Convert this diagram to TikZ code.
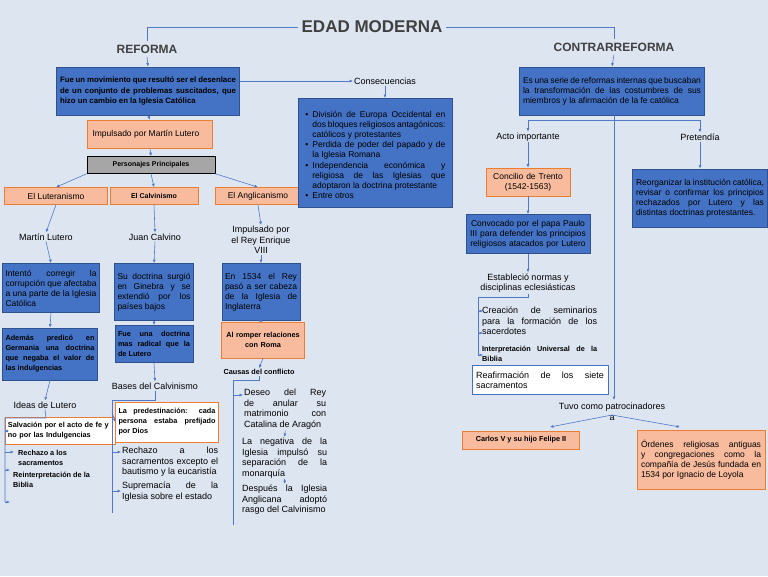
\documentclass[tikz,border=0pt]{standalone}
\usepackage{fontspec}
\setmainfont{Liberation Sans}
\usetikzlibrary{arrows.meta}
\hyphenpenalty=10000 \exhyphenpenalty=10000 \emergencystretch=20pt
\definecolor{bg}{RGB}{221,229,241}
\definecolor{bl}{RGB}{68,114,196}
\definecolor{bld}{RGB}{47,82,143}
\definecolor{sal}{RGB}{248,187,158}
\definecolor{orb}{RGB}{237,125,49}
\definecolor{ln}{RGB}{82,120,200}
\definecolor{tt}{RGB}{64,64,64}
\tikzset{
 bbox/.style={draw=bld,fill=bl,line width=0.8pt,inner sep=2pt,align=justify,font=\fontsize{8.5}{10}\selectfont},
 sbox/.style={draw=orb,fill=sal,line width=0.6pt,inner sep=2pt,align=justify,font=\fontsize{8.5}{10}\selectfont},
 wbox/.style={draw=orb,fill=white,line width=0.8pt,inner sep=2pt,align=justify,font=\fontsize{8}{10}\selectfont},
 txt/.style={inner sep=1pt,align=center,font=\fontsize{9}{10.5}\selectfont},
 jtxt/.style={inner sep=1pt,align=justify,font=\fontsize{9}{10.5}\selectfont},
 sm/.style={font=\fontsize{7.3}{10}\selectfont\bfseries},
 ar/.style={draw=ln,line width=0.6pt,-{Latex[length=3.5pt,width=3pt]}},
 li/.style={draw=ln,line width=0.6pt},
}
\newcommand\bitem{\par\hangindent=7pt\hangafter=1\noindent\hbox to 7pt{\textbullet\hfil}}
\begin{document}
\begin{tikzpicture}[x=1pt,y=-1pt]
\fill[bg] (0,0) rectangle (768,576);
\useasboundingbox (0,0) rectangle (768,576);
% titles
\node[font=\fontsize{17}{20}\selectfont\bfseries,text=tt] (title) at (372,27) {EDAD MODERNA};
\node[font=\fontsize{12}{14}\selectfont\bfseries,text=tt] (ref) at (147,49) {REFORMA};
\node[font=\fontsize{12}{14}\selectfont\bfseries,text=tt] (cref) at (614,47) {CONTRARREFORMA};
\draw[li] (title.west) -- (147,27) -- (ref.north);
\draw[li] (title.east) -- (614,27) -- (cref.north);
% reforma
\node[bbox,minimum width=183,minimum height=48,text width=176,font=\fontsize{7.8}{10.5}\selectfont\bfseries] (r1) at (148,91) {Fue un movimiento que resultó ser el desenlace de un conjunto de problemas suscitados, que hizo un cambio en la Iglesia Católica};
\draw[ar] (ref.south) -- (r1.north);
\node[sbox,minimum width=125,minimum height=28,text width=115] (r2) at (150,134) {Impulsado por Martín Lutero};
\draw[ar] (r1.south) -- (r2.north);
\node[draw=black,fill=gray!70,minimum width=128,minimum height=17,inner sep=1pt,font=\fontsize{7}{8}\selectfont\bfseries] (pp) at (151,165) {Personajes Principales};
\draw[ar] (r2.south) -- (pp.north);
\node[sbox,minimum width=103,minimum height=17,align=center] (lut) at (56,196) {El Luteranismo};
\node[sbox,minimum width=88,minimum height=17,align=center,font=\fontsize{7}{8}\selectfont\bfseries] (cal) at (154,196) {El Calvinismo};
\node[sbox,minimum width=85,minimum height=17,align=center] (ang) at (258,196) {El Anglicanismo};
\draw[ar] (pp.south west) -- (lut.north);
\draw[ar] (pp.south) -- (cal.north);
\draw[ar] (pp.south east) -- (ang.north);
\node[txt] (ml) at (46,237) {Martín Lutero};
\node[txt] (jc) at (155,237) {Juan Calvino};
\node[txt] (ie) at (261,240) {Impulsado por\\el Rey Enrique\\VIII};
\draw[ar] (lut.south) -- (ml.north);
\draw[ar] (cal.south) -- (jc.north);
\draw[ar] (ang.south) -- (ie.north);
\node[bbox,minimum width=97,minimum height=49,text width=91] (b1) at (51,288) {Intentó corregir la corrupción que afectaba a una parte de la Iglesia Católica};
\node[bbox,minimum width=79,minimum height=57,text width=73] (b2) at (154,292) {Su doctrina surgió en Ginebra y se extendió por los países bajos};
\node[bbox,minimum width=78,minimum height=57,text width=72] (b3) at (261,292) {En 1534 el Rey pasó a ser cabeza de la Iglesia de Inglaterra};
\draw[ar] (ml.south) -- (b1.north);
\draw[ar] (jc.south) -- (b2.north);
\draw[ar] (ie.south) -- (b3.north);
\node[bbox,minimum width=95,minimum height=52,text width=89,sm] (c1) at (50,354) {Además predicó en Germania una doctrina que negaba el valor de las indulgencias};
\node[bbox,minimum width=78,minimum height=37,text width=72,sm] (c2) at (154,344) {Fue una doctrina mas radical que la de Lutero};
\node[sbox,minimum width=83,minimum height=36,text width=77,align=center,sm] (c3) at (263,340) {Al romper relaciones con Roma};
\draw[ar] (b1.south) -- (c1.north);
\draw[ar] (b2.south) -- (c2.north);
\draw[ar] (b3.south) -- (c3.north);
\node[sm,inner sep=1pt] (cc) at (259,372) {Causas del conflicto};
\node[txt] (il) at (45,405) {Ideas de Lutero};
\node[txt] (bc) at (155,386) {Bases del Calvinismo};
\draw[ar] (c1.south) -- (il.north);
\draw[ar] (c2.south) -- (bc.north);
\draw[ar] (c3.south) -- (cc.north);
% lutero ideas
\node[wbox,minimum width=110,minimum height=27,text width=104,sm,align=left] (l1) at (60,431) {Salvación por el acto de fe y no por las Indulgencias};
\node[sm,align=left,inner sep=1pt,anchor=west] (l2) at (17,458) {Rechazo a los\\sacramentos};
\node[sm,align=left,inner sep=1pt,anchor=west] (l3) at (12,480) {Reinterpretación de la\\Biblia};
\draw[li] (il.south) -- (46,418) -- (5,418) -- (5,502);
\draw[ar] (5,431) -- (l1.west);
\draw[ar] (5,452) -- (14,452);
\draw[ar] (5,470) -- (10,470);
\draw[ar] (5,502) -- (10,502);
% calvinismo bases
\node[wbox,minimum width=103,minimum height=40,text width=97,sm] (k1) at (167,422) {La predestinación: cada persona estaba prefijado por Dios};
\node[jtxt,text width=96,anchor=north west] (k2) at (121,446) {Rechazo a los sacramentos excepto el bautismo y la eucaristía};
\node[jtxt,text width=96,anchor=north west] (k3) at (121,481) {Supremacía de la Iglesia sobre el estado};
\draw[li] (bc.south) -- (155,400) -- (112,400) -- (112,513);
\draw[ar] (112,412) -- (k1.west);
\draw[ar] (112,452) -- (121,452);
\draw[ar] (112,491) -- (121,491);
% anglicanismo causas
\node[jtxt,text width=82,anchor=north west] (a1) at (243,388) {Deseo del Rey de anular su matrimonio con Catalina de Aragón};
\node[jtxt,text width=85,anchor=north west] (a2) at (241,437) {La negativa de la Iglesia impulsó su separación de la monarquía};
\node[jtxt,text width=85,anchor=north west] (a3) at (241,484) {Después la Iglesia Anglicana adoptó rasgo del Calvinismo};
\draw[li] (cc.south) -- (259,380) -- (233,380) -- (233,525);
\draw[ar] (233,395) -- (243,395);
\draw[ar] (a1.south) -- (a2.north);
\draw[ar] (a2.south) -- (a3.north);
% consecuencias
\node[txt] (cons) at (385,81) {Consecuencias};
\draw[ar] (r1.east |- cons) -- (cons.west);
\node[bbox,minimum width=154,minimum height=109,text width=140,anchor=north west,font=\fontsize{8.5}{10.2}\selectfont,inner sep=5pt] (cb) at (298,98) {%
\bitem División de Europa Occidental en dos bloques religiosos antagónicos: católicos y protestantes
\bitem Perdida de poder del papado y de la Iglesia Romana
\bitem Independencia económica y religiosa de las Iglesias que adoptaron la doctrina protestante
\bitem Entre otros};
\draw[ar] (cons.south) -- (cons.south |- cb.north);
% contrarreforma
\node[bbox,minimum width=185,minimum height=48,text width=178] (x1) at (612,91) {Es una serie de reformas internas que buscaban la transformación de las costumbres de sus miembros y la afirmación de la fe católica};
\draw[ar] (cref.south) -- (x1.north);
\node[txt] (ai) at (528,137) {Acto importante};
\node[txt] (pr) at (700,137) {Pretendía};
\draw[li] (528,120) -- (700,120);
\draw[ar] (528,120) -- (ai.north);
\draw[ar] (700,120) -- (pr.north);
\node[sbox,minimum width=84,minimum height=28,text width=76,align=center] (ct) at (528,182) {Concilio de Trento\\(1542-1563)};
\draw[ar] (ai.south) -- (ct.north);
\node[bbox,minimum width=124,minimum height=39,text width=118,align=center] (cv) at (528,234) {Convocado por el papa Paulo III para defender los principios religiosos atacados por Lutero};
\draw[ar] (ct.south) -- (cv.north);
\node[txt] (en) at (528,283) {Estableció normas y\\disciplinas eclesiásticas};
\draw[ar] (cv.south) -- (en.north);
\node[jtxt,text width=115,anchor=north west] (e1) at (481,306) {Creación de seminarios para la formación de los sacerdotes};
\node[sm,align=justify,text width=115,inner sep=1pt,anchor=north west] (e2) at (481,345) {Interpretación Universal de la Biblia};
\node[draw=bl,fill=white,line width=0.8pt,minimum width=136,minimum height=29,text width=128,inner sep=2pt,align=justify,font=\fontsize{9}{10.5}\selectfont] (e3) at (540,380) {Reafirmación de los siete sacramentos};
\draw[li] (en.south) -- (528,297) -- (478,297) -- (478,355);
\draw[ar] (478,311) -- (483,311);
\draw[ar] (478,333) -- (483,333);
\draw[ar] (478,355) -- (483,355);
\node[bbox,minimum width=135,minimum height=58,text width=128] (pt) at (700,198) {Reorganizar la institución católica, revisar o confirmar los principios rechazados por Lutero y las distintas doctrinas protestantes.};
\draw[ar] (pr.south) -- (pt.north);
\node[txt] (tu) at (612,412) {Tuvo como patrocinadores\\a};
\draw[ar] (614,115) -- (614,400);
\node[sbox,minimum width=117,minimum height=18,align=center,sm] (cv5) at (521,440) {Carlos V y su hijo Felipe II};
\node[sbox,minimum width=128,minimum height=59,text width=120] (or) at (701,460) {Órdenes religiosas antiguas y congregaciones como la compañía de Jesús fundada en 1534 por Ignacio de Loyola};
\draw[ar] (612,415) -- (550,427);
\draw[ar] (612,415) -- (680,427);
\end{tikzpicture}
\end{document}
